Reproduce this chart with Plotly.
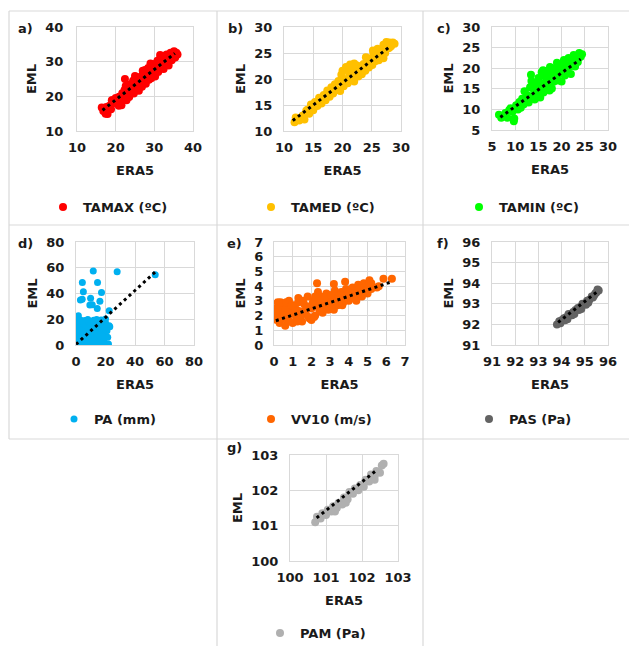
import plotly.graph_objects as go

W, H = 629, 646

# ---------------- data ----------------
tamax_era5 = [16.4,16.8,17.4,17.9,17.6,18.4,18.8,19.2,19.6,20.0, 20.4,20.8,20.9,21.3,21.5,21.7,22.0,22.3,22.4,22.6,
              22.8,23.0,23.2,23.5,23.7,24.0,24.2,24.5,24.7,25.0, 25.2,25.5,25.8,26.0,26.2,26.5,26.8,27.0,27.3,27.6,
              27.8,28.1,28.4,28.6,28.9,29.2,29.4,29.7,30.0,30.2, 30.5,30.8,31.0,31.3,31.6,31.8,32.1,32.4,32.6,32.9,
              33.2,33.4,33.7,34.0,34.2,34.5,34.8,35.1,35.4,35.7, 36.0,29.0,31.5,27.0,25.0,19.0,21.0,23.0,25.0,27.0,
              29.0,31.0,33.0,35.0]
tamax_eml = [16.8,15.8,15.0,14.9,16.9,17.3,16.3,18.9,18.1,19.5, 18.0,17.3,19.9,18.6,17.4,20.9,19.5,21.8,25.0,23.0,
             18.9,20.8,22.4,19.8,23.4,21.3,22.9,24.5,20.8,23.3, 21.7,25.0,23.0,21.6,25.6,24.2,22.8,26.3,24.8,27.6,
             23.6,26.0,28.2,24.8,27.0,25.2,28.6,26.5,29.3,25.7, 28.0,30.3,27.0,29.1,31.2,28.0,30.2,27.9,31.7,29.4,
             32.1,30.5,28.9,31.7,32.6,30.4,31.8,33.0,31.2,32.6, 32.1,29.5,31.9,27.4,25.9,18.9,19.8,21.6,23.4,25.1,
             26.8,28.6,30.4,32.1]
tamax_trend_era5 = [16.6, 35.3]
tamax_trend_eml = [16.0, 32.4]

tamed_era5 = [11.8,12.0,12.6,13.2,13.5,13.8,14.3,14.6,15.0,15.3, 15.7,16.0,16.4,16.8,17.1,17.4,17.8,18.1,18.4,18.7,
              19.0,19.3,19.6,19.8,20.0,20.2,20.4,20.6,20.9,21.1, 21.3,21.6,21.8,22.0,22.2,22.5,22.7,23.0,23.3,23.6,
              23.9,24.2,24.5,24.8,25.1,25.3,25.6,25.9,26.2,26.5, 26.8,27.0,27.3,27.5,27.8,28.0,28.3,28.6,28.9,26.0,
              25.2,24.0,27.0,22.0,14.0,16.0,18.0,20.0,22.0,24.0, 26.0,28.0]
tamed_eml = [11.7,12.6,12.0,13.0,12.2,13.9,13.3,15.1,14.0,15.6, 14.8,16.4,15.3,16.9,15.9,17.8,16.6,18.4,17.2,19.0,
             18.0,19.6,17.7,20.8,21.6,18.6,20.0,22.3,19.2,21.2, 22.8,20.0,22.0,19.5,21.3,22.6,20.5,21.8,20.9,22.9,
             21.6,23.5,22.2,24.0,22.7,25.0,23.4,24.6,23.6,25.5, 24.2,26.6,25.0,27.1,25.9,27.0,26.3,27.0,26.8,25.8,
             25.5,24.2,24.0,23.0,14.1,15.8,17.5,19.2,20.9,22.6, 24.3,26.0]
tamed_trend_era5 = [11.5, 28.2]
tamed_trend_eml = [12.0, 26.3]

tamin_era5 = [6.5,7.0,7.5,7.9,8.3,8.7,9.0,9.4,9.7,9.8, 10.2,10.6,10.9,11.2,11.5,11.8,12.0,12.3,12.6,12.9,
              13.2,13.4,13.5,13.7,14.0,14.2,14.4,14.7,15.0,15.2, 15.4,15.7,15.9,16.1,16.4,16.6,16.9,17.1,17.4,17.9,
              17.7,18.0,18.3,18.6,18.9,19.2,19.5,19.7,20.0,20.2, 20.5,20.7,21.0,21.2,21.5,21.8,22.0,22.3,22.6,22.9,
              23.2,23.5,23.8,24.1,24.4,19.0,17.5,16.0,9.0,11.0, 13.0,15.0,17.0,19.0,21.0,23.0]
tamin_eml = [8.7,8.0,8.4,9.1,8.0,9.8,10.3,9.4,7.1,7.8, 11.0,10.0,11.8,10.4,12.6,11.2,14.4,12.0,13.5,11.7,
             15.4,18.4,16.9,13.0,14.8,12.4,16.3,13.8,17.6,15.0, 12.9,19.0,16.3,14.1,18.0,15.4,19.4,17.0,14.6,15.1,
             18.6,20.0,16.7,18.3,19.8,17.0,21.0,18.7,16.8,20.3, 22.0,18.2,20.8,19.0,22.5,20.4,18.6,21.8,23.2,20.4,
             22.6,21.5,23.7,22.8,23.4,21.3,20.3,19.5,9.9,11.5, 13.2,14.9,16.5,18.2,19.8,21.5]
tamin_trend_era5 = [6.8, 24.1]
tamin_trend_eml = [8.1, 22.2]

pa_era5 = [0.3,0.5,0.8,1.0,0.6,1.2,0.9,2.0,2.5,2.2, 3.0,2.8,3.2,3.5,4.0,4.5,4.2,5.0,5.5,6.0,
           5.8,6.5,7.0,7.5,8.0,8.5,8.8,9.5,10.0,10.5, 11.0,11.5,12.0,12.5,13.0,13.5,14.0,15.0,15.5,16.0,
           16.5,17.0,18.0,18.5,19.0,19.5,20.0,21.0,21.5,22.0, 22.5,22.9,1.6,11.7,27.9,53.7,4.3,14.6,5.0,17.3,
           3.0,4.2,9.9,16.2,9.4,11.0,14.4,22.5,1.5,3.0, 6.0,8.0,12.0,14.0,17.0,20.0,3.5,7.5,13.5,18.5,
           0.2,0.3,4.8,9.0,15.8,19.2]
pa_eml = [0.5,3.0,6.0,9.0,12.0,15.0,18.0,1.5,4.5,8.0, 11.0,14.0,17.0,2.0,6.5,10.0,13.5,16.5,0.8,4.0,
          8.5,12.0,15.0,18.5,2.5,6.0,10.0,13.5,17.0,0.5, 4.5,8.0,12.5,16.0,2.0,6.0,10.0,14.0,18.0,0.5,
          4.5,8.5,12.0,16.0,2.5,7.0,17.0,11.0,6.0,0.8, 15.0,14.2,22.7,57.4,56.8,54.5,48.6,48.6,41.3,40.8,
          35.0,35.5,36.4,34.0,31.0,31.2,28.4,26.6,19.8,19.5, 19.0,19.8,19.2,19.8,19.5,20.2,0.5,0.6,0.4,0.6,
          7.0,10.5,2.8,7.5,7.0,12.5]
pa_trend_era5 = [0.0, 54.0]
pa_trend_eml = [0.5, 57.0]

vv10_era5 = [0.05,0.1,0.2,0.3,0.4,0.5,0.6,0.7,0.8,0.9, 1.0,1.1,1.2,1.3,1.4,1.5,1.6,1.7,1.8,1.9,
             2.0,2.1,2.2,2.3,2.35,2.4,2.5,2.6,2.7,2.8, 2.9,3.0,3.1,3.2,3.25,3.3,3.4,3.5,3.6,3.7,
             3.8,3.85,3.9,4.0,4.1,4.2,4.3,4.4,4.5,4.6, 4.7,4.8,4.9,5.0,5.1,5.2,5.5,5.6,5.85,6.3,
             1.0,0.3,2.0,0.15,0.45,0.75,1.05,1.35,1.65,1.95, 2.25,2.55,2.85,3.15,3.45,3.75,4.05,4.35,4.65,4.95,
             5.15,0.6,1.2,1.8,2.4,3.0,3.6,4.2,4.8,0.1, 0.35,0.35,0.55,0.65,0.85,0.95,1.15,1.25,1.3,1.45,
             1.55,1.75,1.85,2.05,2.15,2.2,2.45,2.5,2.65,2.75, 2.95,3.05,3.2,3.35,3.55,3.65,3.8,3.95,4.1,4.25,
             4.4,4.55,4.7,4.85,5.0,5.1,5.2]
vv10_eml = [2.5,1.9,2.9,1.5,2.2,2.7,1.3,1.8,3.0,2.3, 1.5,2.7,1.9,3.2,2.3,1.6,2.8,2.1,3.3,1.8,
            2.5,3.0,2.0,4.2,3.6,2.6,3.3,2.2,2.9,3.5, 2.4,3.1,2.6,4.15,3.7,3.3,2.7,3.0,3.6,2.9,
            4.3,3.8,3.3,3.0,3.6,3.9,3.2,3.7,4.1,3.4, 3.9,4.2,3.6,4.0,4.4,3.8,3.9,4.0,4.5,4.5,
            2.2,2.6,1.7,1.7,1.8,2.0,2.1,2.2,2.35,2.5, 2.6,2.7,2.85,2.95,3.1,3.2,3.35,3.45,3.6,3.75,
            3.85,2.45,2.4,2.6,3.0,2.75,3.15,3.5,3.55,2.2, 1.8,2.9,2.0,2.9,1.6,2.7,2.3,1.6,2.9,2.0,
            3.0,2.5,1.9,2.8,1.9,3.3,2.3,3.0,2.5,3.3, 2.6,3.4,2.4,2.9,3.4,2.7,3.0,3.6,3.2,3.5,
            3.0,3.8,3.3,3.9,3.5,4.1,4.2]
vv10_trend_era5 = [0.1, 6.3]
vv10_trend_eml = [1.65, 4.3]

pas_era5 = [93.8,93.9,94.0,94.1,94.2,94.3,94.4,94.5,94.6,94.7, 94.8,94.9,95.0,95.1,95.2,95.3,95.4,95.5,95.6,93.95,
            94.25,94.55,94.85,95.15,95.45,94.15,94.45,94.75,95.05,95.35, 95.55]
pas_eml = [92.0,92.15,92.2,92.3,92.35,92.5,92.5,92.6,92.7,92.8, 92.85,93.0,93.0,93.15,93.2,93.35,93.4,93.55,93.65,92.05,
           92.25,92.5,92.75,93.05,93.5,92.2,92.45,92.7,92.95,93.3, 93.7]
pas_trend_era5 = [93.85, 95.55]
pas_trend_eml = [92.1, 93.6]

pam_era5 = [100.7,100.75,100.85,100.9,101.0,101.05,101.15,101.2,101.3,101.35, 101.45,101.5,101.6,101.65,101.75,101.8,101.9,101.95,102.05,102.1,
            102.2,102.25,102.35,102.4,102.5,102.55,102.6,101.55,101.25,102.35]
pam_eml = [101.1,101.25,101.2,101.35,101.3,101.45,101.4,101.55,101.5,101.65, 101.6,101.8,101.75,101.95,101.9,102.05,102.0,102.15,102.1,102.3,
           102.25,102.45,102.4,102.55,102.5,102.7,102.75,101.65,101.4,102.3]
pam_trend_era5 = [100.74, 102.42]
pam_trend_eml = [101.22, 102.58]

names = ["TAMAX (ºC)", "TAMED (ºC)", "TAMIN (ºC)", "PA (mm)", "VV10 (m/s)", "PAS (Pa)", "PAM (Pa)"]
letters = ["a)", "b)", "c)", "d)", "e)", "f)", "g)"]
ranges = [[10, 40], [10, 30], [5, 30], [0, 80], [0, 7], [91, 96], [100, 103]]
dticks = [10, 5, 5, 20, 1, 1, 1]

series = [
    (tamax_era5, tamax_eml, tamax_trend_era5, tamax_trend_eml),
    (tamed_era5, tamed_eml, tamed_trend_era5, tamed_trend_eml),
    (tamin_era5, tamin_eml, tamin_trend_era5, tamin_trend_eml),
    (pa_era5, pa_eml, pa_trend_era5, pa_trend_eml),
    (vv10_era5, vv10_eml, vv10_trend_era5, vv10_trend_eml),
    (pas_era5, pas_eml, pas_trend_era5, pas_trend_eml),
    (pam_era5, pam_eml, pam_trend_era5, pam_trend_eml),
]

# ---------------- styling / layout (pixels) ----------------
colors = ["#ff0000", "#ffc000", "#00ff00", "#00b0f0", "#ff6600", "#636363", "#b0b0b0"]
msizes = [8, 8, 8, 7, 8, 8, 8]
# plot boxes: left, right, top, bottom
boxes = [(77, 193, 27, 131), (284, 401, 27, 131), (492, 608, 27, 130),
         (76, 194, 242, 345), (274, 405, 242, 345), (492, 608, 242, 345),
         (290, 398, 455, 561)]
ylens = [10, 8, 8, 8, 7, 8, 8]
legend_pos = [(43, 207), (251, 207), (459, 207), (54, 419), (251, 419), (469, 419), (260, 633)]
letter_pos = [(16, 28), (226, 28), (435, 28), (16, 243), (225, 243), (435, 243), (225, 447)]

TXT = "#1a1a1a"
GRID = "#d9d9d9"
FONT = dict(family="DejaVu Sans", size=13, color=TXT, weight="bold")

fig = go.Figure()
layout = dict(
    width=W, height=H, autosize=False,
    margin=dict(l=0, r=0, t=0, b=0, autoexpand=False),
    paper_bgcolor="white", plot_bgcolor="white",
    font=FONT,
    annotations=[], shapes=[],
)

for i in range(7):
    n = i + 1
    sfx = "" if n == 1 else str(n)
    xs, ys, tx, ty = series[i]
    legname = "legend" + sfx
    fig.add_trace(go.Scatter(
        x=xs, y=ys, mode="markers", name=names[i],
        marker=dict(color=colors[i], size=msizes[i], line=dict(width=0)),
        xaxis="x" + sfx, yaxis="y" + sfx, legend=legname, showlegend=True,
    ))
    fig.add_trace(go.Scatter(
        x=tx, y=ty, mode="lines", showlegend=False,
        line=dict(color="black", width=3, dash="3px,3.5px"),
        xaxis="x" + sfx, yaxis="y" + sfx,
    ))
    l, r, t, b = boxes[i]
    common = dict(
        range=ranges[i], dtick=dticks[i], tick0=ranges[i][0],
        showgrid=True, gridcolor=GRID, gridwidth=1,
        showline=True, linecolor=GRID, linewidth=1, mirror=True,
        zeroline=False, ticks="outside", tickcolor="rgba(0,0,0,0)",
        tickfont=FONT, fixedrange=True, automargin=False,
    )
    layout["xaxis" + sfx] = dict(
        common, domain=[l / W, r / W], anchor="y" + sfx, ticklen=4,
        title=dict(text="ERA5", font=FONT, standoff=12),
    )
    layout["yaxis" + sfx] = dict(
        common, domain=[1 - b / H, 1 - t / H], anchor="x" + sfx, ticklen=ylens[i],
        title=dict(text="EML", font=FONT, standoff=5),
    )
    lx, ly = legend_pos[i]
    layout[legname] = dict(
        x=lx / W, y=1 - ly / H, xanchor="left", yanchor="middle",
        font=FONT, bgcolor="rgba(0,0,0,0)", borderwidth=0,
    )
    px, py = letter_pos[i]
    layout["annotations"].append(dict(
        text=letters[i], x=px / W, y=1 - py / H, xref="paper", yref="paper",
        xanchor="left", yanchor="middle", showarrow=False, font=FONT,
    ))

# cell borders of the panel table
def hline(y, x0, x1):
    return dict(type="line", xref="paper", yref="paper", x0=x0 / W, x1=x1 / W,
                y0=1 - y / H, y1=1 - y / H, line=dict(color=GRID, width=1.2))

def vline(x, y0, y1):
    return dict(type="line", xref="paper", yref="paper", x0=x / W, x1=x / W,
                y0=1 - y0 / H, y1=1 - y1 / H, line=dict(color=GRID, width=1.2))

layout["shapes"] = [
    hline(11, 9, 629), hline(225, 9, 629), hline(439, 9, 629),
    vline(9, 11, 439), vline(217, 11, 646), vline(423, 11, 646),
]

fig.update_layout(**layout)
fig.write_html("out.html")
